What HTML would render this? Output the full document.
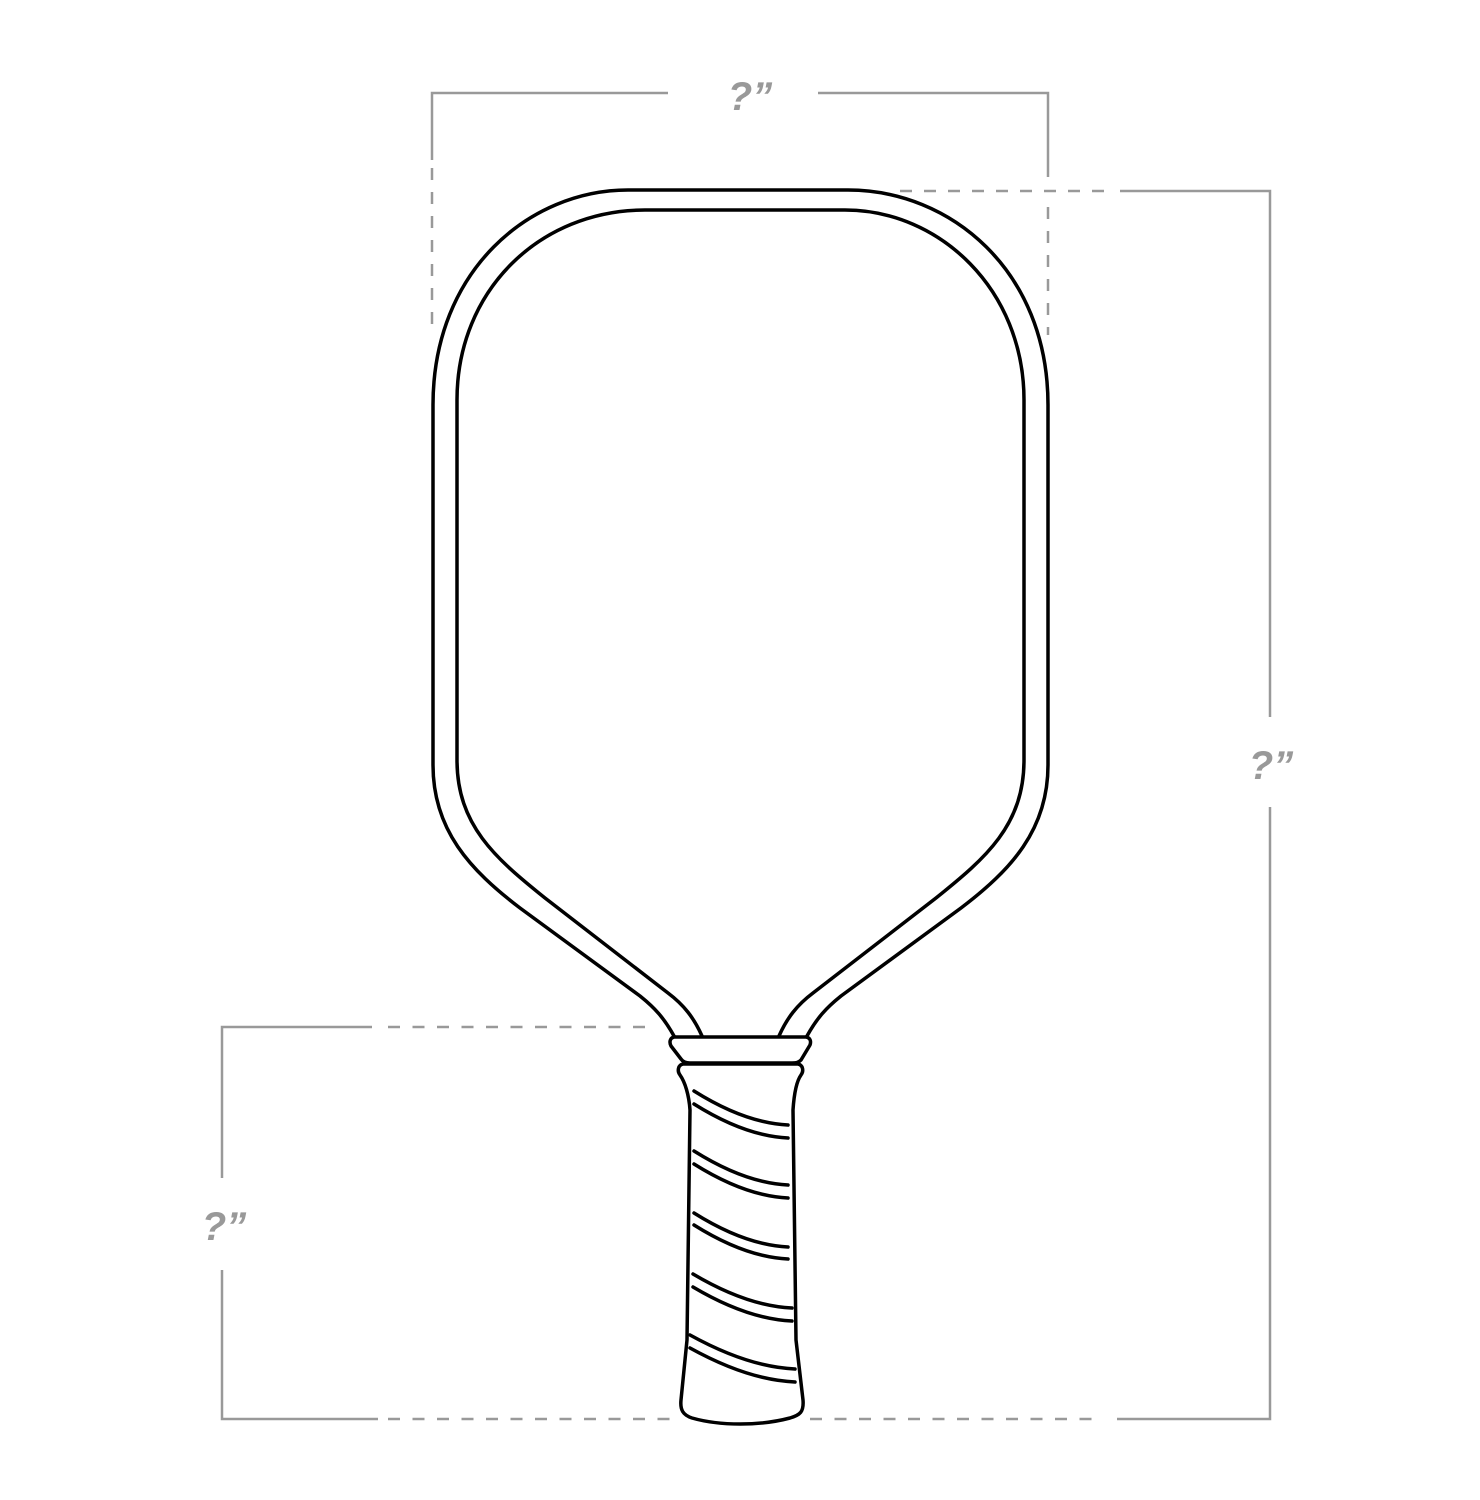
<!DOCTYPE html>
<html><head><meta charset="utf-8"><style>
html,body{margin:0;padding:0;background:#fff;}
svg{display:block;}
text{font-family:"Liberation Sans",sans-serif;font-weight:bold;font-style:italic;fill:#999;font-size:40px;}
</style></head><body>
<svg width="1480" height="1500" viewBox="0 0 1480 1500" xmlns="http://www.w3.org/2000/svg">
<g stroke="#999" stroke-width="2.5" fill="none">
  <!-- top dimension -->
  <polyline points="432,160 432,93 668,93"/>
  <polyline points="818,93 1048,93 1048,177"/>
  <line x1="432" y1="168" x2="432" y2="335" stroke-dasharray="12 12"/>
  <line x1="1048" y1="207" x2="1048" y2="335" stroke-dasharray="12 12"/>
  <!-- right dimension -->
  <line x1="900" y1="191" x2="1108" y2="191" stroke-dasharray="12 12"/>
  <polyline points="1120,191 1270,191 1270,717"/>
  <polyline points="1270,807 1270,1419 1117,1419"/>
  <line x1="810" y1="1419" x2="1103" y2="1419" stroke-dasharray="12 12.5"/>
  <!-- left dimension -->
  <polyline points="372,1027 222,1027 222,1178"/>
  <polyline points="222,1270 222,1419 378,1419"/>
  <line x1="388" y1="1027" x2="655" y2="1027" stroke-dasharray="12 12.5"/>
  <line x1="388" y1="1419" x2="680" y2="1419" stroke-dasharray="12 12.5"/>
</g>
<text x="750" y="110" text-anchor="middle">?”</text>
<text x="1271" y="779" text-anchor="middle">?”</text>
<text x="224" y="1240" text-anchor="middle">?”</text>
<g stroke="#000" stroke-width="3.5" fill="none" stroke-linecap="round" stroke-linejoin="round">
  <!-- outer frame -->
  <path d="M674,1036 C664,1018 655,1008 640,996 L520,908 C470,870 433,830 433,765 L433,405 C433,270 530,190 628,190 L848,190 C950,190 1048,270 1048,405 L1048,765 C1048,830 1011,870 961,908 L841,996 C826,1008 817,1018 807,1036"/>
  <!-- inner frame -->
  <path d="M702,1036 C694,1018 684,1005 668,993 L545,898 C495,858 457,825 457,760 L457,400 C457,290 540,210 645,210 L845,210 C940,210 1024,290 1024,400 L1024,760 C1024,825 986,858 936,898 L813,993 C797,1005 787,1018 779,1036"/>
  <!-- collar -->
  <path d="M674,1037 L806,1037 C811,1038 811,1042 810,1045 L801,1060 C798,1063 796,1063 792,1063 L690,1063 C686,1063 683,1062 681,1059 L671,1046 C669,1042 670,1038 674,1037 Z"/>
  <!-- grip -->
  <path d="M683,1064 L798,1064 C803,1065 804,1071 801,1075 C796,1082 794,1095 793,1110 L796,1340 L803,1400 C804,1412 800,1415 790,1418 C760,1426 720,1426 692,1418 C683,1415 680,1410 681,1400 L687,1340 L690,1110 C689,1095 685,1082 680,1075 C677,1071 678,1065 683,1064 Z"/>
  <!-- stripes -->
  <path d="M694,1091 Q745,1123 788,1125"/>
  <path d="M694,1104 Q745,1136 788,1138"/>
  <path d="M694,1151 Q745,1183 788,1185"/>
  <path d="M694,1164 Q745,1196 788,1198"/>
  <path d="M694,1213 Q745,1245 788,1247"/>
  <path d="M694,1225 Q745,1257 788,1259"/>
  <path d="M693,1274 Q747,1306 792,1308"/>
  <path d="M693,1287 Q747,1319 792,1321"/>
  <path d="M690,1335 Q748,1367 795,1369"/>
  <path d="M690,1348 Q748,1380 795,1382"/>
</g>
</svg>
</body></html>
